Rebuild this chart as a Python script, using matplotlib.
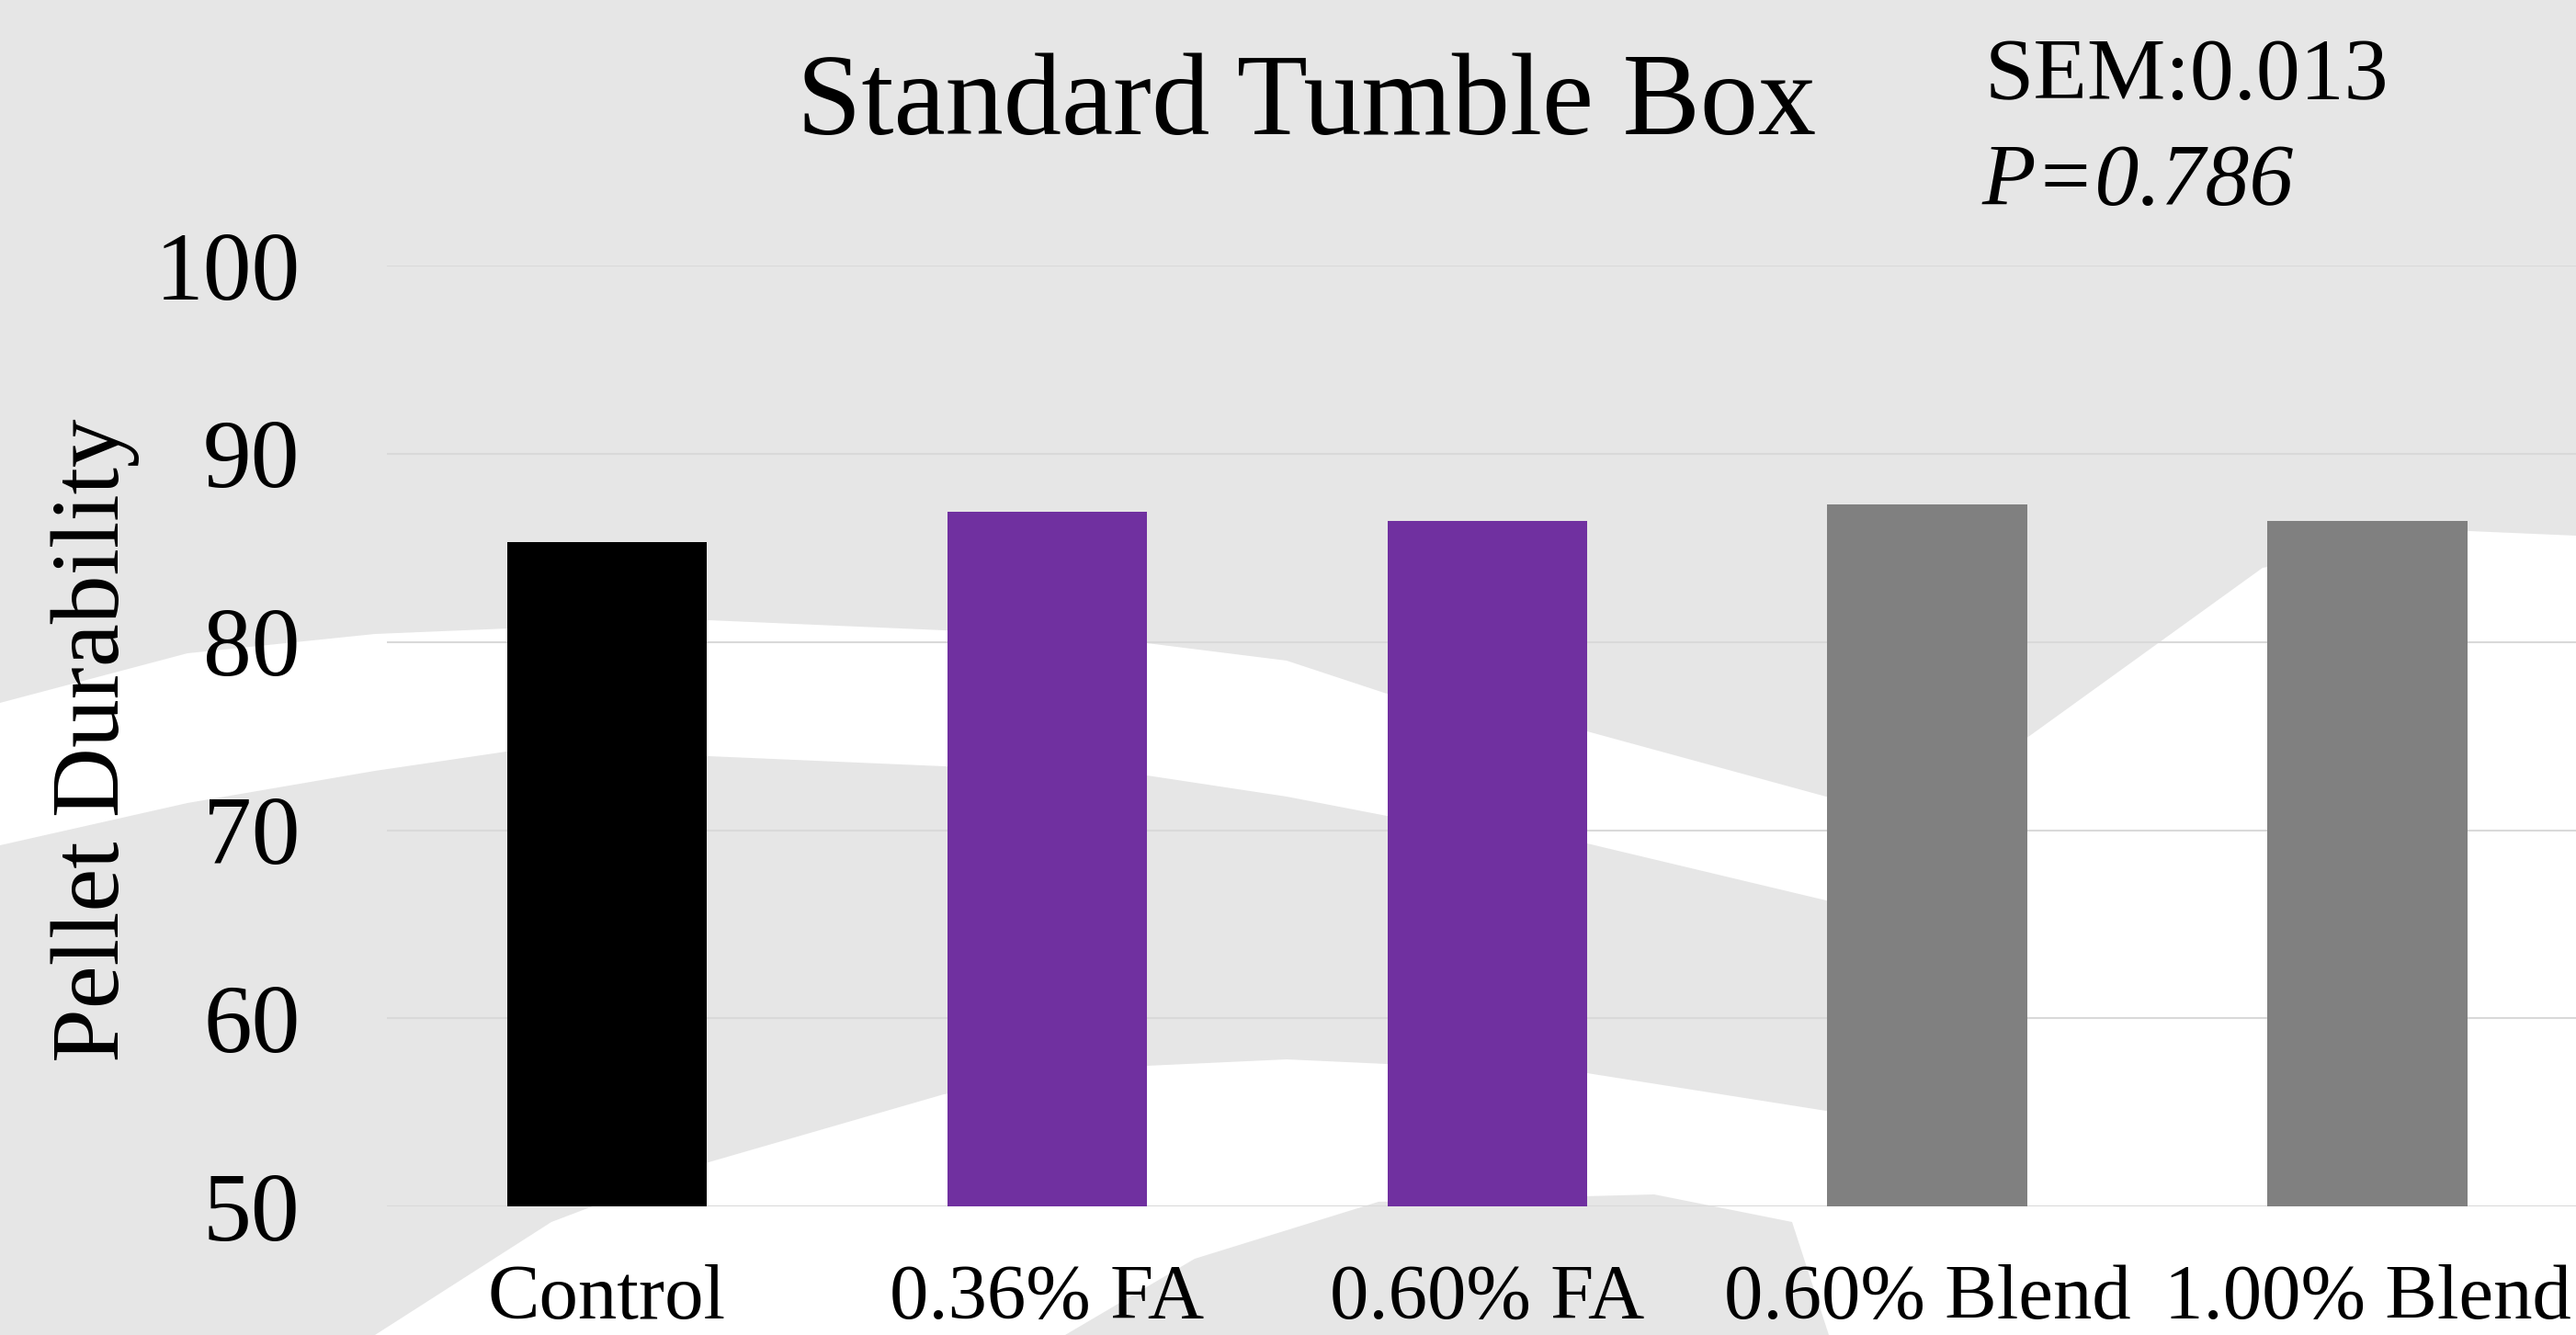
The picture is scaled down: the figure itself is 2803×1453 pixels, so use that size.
import matplotlib
matplotlib.use('Agg')
import matplotlib.pyplot as plt
from matplotlib.patches import Polygon

# Data
categories = ['Control', '0.36% FA', '0.60% FA', '0.60% Blend', '1.00% Blend']
durability = [85.3, 86.9, 86.4, 87.3, 86.4]
bar_colors = ['#000000', '#7030A0', '#7030A0', '#808080', '#808080']
y_ticks = [50, 60, 70, 80, 90, 100]
title = 'Standard Tumble Box'
sem_text = 'SEM:0.013'
p_text = 'P=0.786'

plt.rcParams['font.family'] = ['Liberation Serif', 'DejaVu Serif']

W, H = 2803, 1453
fig = plt.figure(figsize=(W / 100, H / 100), dpi=100)
bg_gray = '#e6e6e6'
fig.patch.set_facecolor(bg_gray)


# --- background watermark swooshes (pixel coords, y down) ---
def fig_poly(pts, color):
    xy = [(x / W, 1 - y / H) for x, y in pts]
    p = Polygon(xy, closed=True, transform=fig.transFigure,
                facecolor=color, edgecolor='none', zorder=0)
    fig.patches.append(p)


white_top = [(0, 765), (204, 711), (408, 690), (771, 675), (1027, 686),
             (1248, 700), (1400, 719), (1509, 755), (1727, 796), (1987, 867),
             (2100, 860), (2207, 802), (2462, 618), (2687, 578), (2803, 583)]
fig_poly(white_top + [(W, H), (0, H)], 'white')

band_top = [(0, 920), (204, 874), (408, 839), (551, 818), (771, 823),
            (1027, 834), (1248, 844), (1400, 867), (1509, 888), (1727, 918),
            (1987, 980), (2150, 1020)]
band_bottom = [(2150, 1150), (1987, 1209), (1727, 1168), (1509, 1158),
               (1400, 1153), (1248, 1160), (1027, 1191), (771, 1265),
               (600, 1330), (408, 1453), (0, 1453)]
fig_poly(band_top + band_bottom, bg_gray)

fig_poly([(1159, 1453), (1300, 1370), (1500, 1308), (1800, 1300),
          (1950, 1330), (1990, 1453)], bg_gray)

# --- chart ---
ax = fig.add_axes([421 / W, 1 - 1313.3 / H, 2394.5 / W, 1024.5 / H])
ax.set_zorder(2)
ax.patch.set_visible(False)

x = range(len(categories))
ax.bar(x, [v - 50 for v in durability], bottom=50, width=0.454,
       color=bar_colors, zorder=3)

ax.set_xlim(-0.5, len(categories) - 0.5)
ax.set_ylim(50, 100)
ax.set_yticks(y_ticks)
ax.set_xticks(list(x))
ax.set_xticklabels(categories)
ax.grid(axis='y', color='#d9d9d9', linewidth=1.5, zorder=1)
ax.set_axisbelow(True)
for s in ax.spines.values():
    s.set_visible(False)
ax.tick_params(axis='x', length=0, pad=45, labelsize=61)
ax.tick_params(axis='y', length=0, pad=68, labelsize=76)

fig.text(0.037, 0.4456, 'Pellet Durability', rotation=90, ha='center',
         va='center', fontsize=76, zorder=5)
fig.text(0.507, 0.8992, title, ha='center', va='baseline', fontsize=91,
         zorder=5)
fig.text(0.7706, 0.9257, sem_text, ha='left', va='baseline', fontsize=69,
         zorder=5)
fig.text(0.7695, 0.8467, p_text, ha='left', va='baseline', fontsize=69,
         style='italic', zorder=5)

plt.savefig('out.png', dpi=100, facecolor=fig.get_facecolor())
